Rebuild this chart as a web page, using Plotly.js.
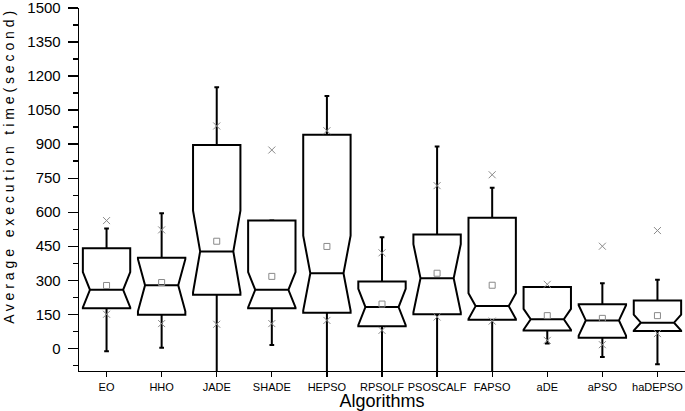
<!DOCTYPE html>
<html>
<head>
<meta charset="utf-8">
<script src="https://cdn.plot.ly/plotly-3.0.1.min.js"></script>
<style>
  html, body { margin: 0; padding: 0; background: #fff; }
  #chart { width: 685px; height: 411px; }
</style>
</head>
<body>
<div id="chart"></div>
<script>
// Box statistics (seconds)
const algorithms = ['EO', 'HHO', 'JADE', 'SHADE', 'HEPSO', 'RPSOLF', 'PSOSCALF', 'FAPSO', 'aDE', 'aPSO', 'haDEPSO'];
const q1Values     = [177, 148, 236, 177, 157,  97, 150, 126,  79,  47,  76];
const medianValues = [258, 278, 427, 258, 331, 182, 309, 186, 128, 123, 113];
const q3Values     = [441, 399, 896, 563, 941, 295, 502, 575, 270, 194, 211];
const lowerWhisker = [-13,   3, -150, 15, -150, -150, -150, -150, 21, -38, -70];
const upperWhisker = [528, 595, 1151, 565, 1112, 490, 889, 708, 245, 287, 302];
const notchSpans   = [ 78, 115, 180,  78, 165,  80, 150,  57,  46,  67,  35];
const meanValues   = [277, 290, 472, 317, 449, 195, 331, 278, 144, 132, 144];
const maxValues    = [563, 522, 980, 874, 959, 421, 717, 765, 282, 450, 519];
const minValues    = [150, 109, 106, 109, 123,  79, 138, 120,  35,  16,  65];

const fontFamily = '"Liberation Sans", Arial, sans-serif';
const markerGray = '#8a8a8a';

const boxTrace = {
    type: 'box',
    x: algorithms,
    q1: q1Values,
    median: medianValues,
    q3: q3Values,
    lowerfence: lowerWhisker,
    upperfence: upperWhisker,
    notchspan: notchSpans,
    notched: true,
    notchwidth: 0.15,
    whiskerwidth: 0.1,
    boxpoints: false,
    fillcolor: 'rgba(255,255,255,0)',
    line: { color: '#000', width: 2 },
    hoverinfo: 'skip',
    showlegend: false
};

const meanTrace = {
    type: 'scatter',
    mode: 'markers',
    x: algorithms,
    y: meanValues,
    marker: { symbol: 'square-open', size: 6, color: markerGray, line: { width: 1 } },
    showlegend: false,
    hoverinfo: 'skip'
};

const extremeTrace = {
    type: 'scatter',
    mode: 'markers',
    x: algorithms.concat(algorithms),
    y: maxValues.concat(minValues),
    marker: { symbol: 'x-thin-open', size: 7, color: markerGray, line: { width: 1, color: markerGray } },
    showlegend: false,
    hoverinfo: 'skip'
};

const yTitle = 'Average execution time(second)'.split('').join(' ');

const layout = {
    width: 685,
    height: 411,
    margin: { l: 79, r: 0, t: 8, b: 40 },
    paper_bgcolor: '#fff',
    plot_bgcolor: '#fff',
    font: { family: fontFamily, color: '#000' },
    boxgap: 0.14,
    boxgroupgap: 0,
    xaxis: {
        type: 'category',
        range: [-0.5, 10.5],
        showline: true,
        linecolor: '#000',
        linewidth: 1.3,
        ticks: 'outside',
        ticklen: 5,
        tickwidth: 1.3,
        tickcolor: '#000',
        showgrid: false,
        zeroline: false,
        tickfont: { size: 11, family: fontFamily },
        title: { text: 'Algorithms', font: { size: 18, family: fontFamily }, standoff: 1 }
    },
    yaxis: {
        range: [-100, 1500],
        tick0: 0,
        dtick: 150,
        showline: true,
        linecolor: '#000',
        linewidth: 1.3,
        ticks: 'outside',
        ticklen: 10,
        tickwidth: 1.3,
        tickcolor: '#000',
        ticklabelstandoff: 4,
        ticklabeloverflow: 'allow',
        showgrid: false,
        zeroline: false,
        tickfont: { size: 15, family: fontFamily },
        minor: { dtick: 75, ticks: 'outside', ticklen: 5, tickwidth: 1.3, tickcolor: '#000', showgrid: false }
    },
    annotations: [{
        text: yTitle,
        xref: 'paper', yref: 'paper',
        x: -0.1155, y: 0.56,
        xanchor: 'center', yanchor: 'middle',
        textangle: -90,
        showarrow: false,
        font: { size: 14, family: fontFamily, color: '#000' }
    }]
};

Plotly.newPlot('chart', [boxTrace, meanTrace, extremeTrace], layout, { displayModeBar: false, staticPlot: true });
</script>
</body>
</html>
